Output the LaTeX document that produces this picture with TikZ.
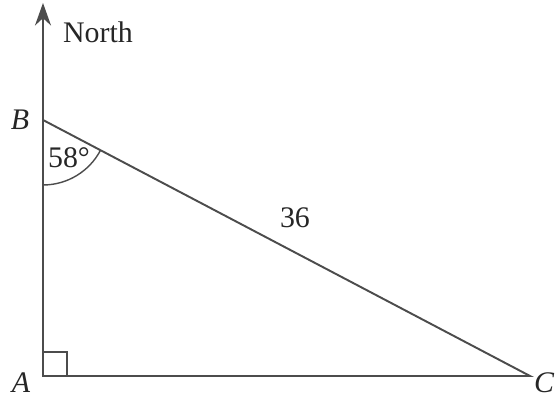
\documentclass[tikz,border=0pt]{standalone}
\usepackage{fontspec}
\setmainfont{Liberation Serif}
\usetikzlibrary{arrows.meta,positioning}

\begin{document}
\begin{tikzpicture}[
  line/.style={draw=black!70,line width=1.1pt},
  arrow/.style={line,-{Stealth[length=4.5mm,width=3.2mm]}},
  lbl/.style={font=\fontsize{17}{20}\selectfont,text=black!85,inner sep=0pt}
]
\useasboundingbox (-0.86,-0.46) rectangle (10.24,7.52);
\coordinate (A) at (0,0);
\coordinate (B) at (0,5.12);
\coordinate (C) at (9.74,0);
\coordinate (N) at (0,7.46);
% triangle and north line
\draw[arrow] (A) -- (N);
\draw[line] (A) -- (C) -- (B);
\draw[line,line width=0.8pt] (A) rectangle (0.48,0.48);
\draw[line,line width=0.8pt] ([shift={(-90:1.3)}]B) arc[start angle=-90,end angle=-27.7,radius=1.3];
% labels
\node[lbl] (north) at (1.1,6.88) {North};
\node[lbl] (lB) at (-0.46,5.12) {\itshape B};
\node[lbl] (lA) at (-0.44,-0.13) {\itshape A};
\node[lbl] (lC) at (10.02,-0.13) {\itshape C};
\node[lbl] (ang) at (0.52,4.36) {58°};
\node[lbl] (len) at (5.04,3.16) {36};
\end{tikzpicture}
\end{document}
